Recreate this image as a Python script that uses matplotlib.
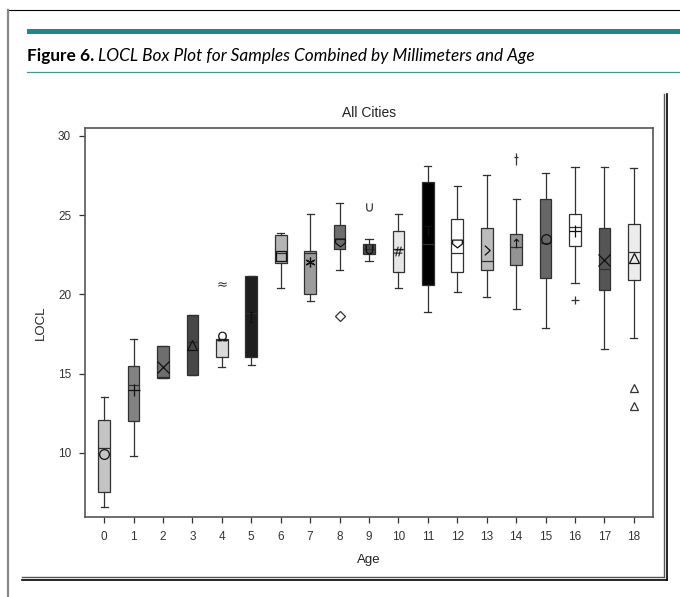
import matplotlib
matplotlib.use('Agg')
from matplotlib import pyplot as plt
from matplotlib.lines import Line2D
from matplotlib.patches import Rectangle
from matplotlib.markers import MarkerStyle
from matplotlib.path import Path

ages = list(range(19))
whislo = [6.56, 9.81, 14.72, 14.94, 15.40, 15.57, 20.42, 19.58, 21.52, 22.10,
          20.42, 18.90, 20.17, 19.85, 19.05, 17.89, 20.70, 16.56, 17.26]
q1 = [7.55, 12.03, 14.72, 14.94, 16.03, 16.03, 22.00, 20.00, 22.85, 22.57,
      21.43, 20.57, 21.43, 21.52, 21.84, 21.05, 23.06, 20.25, 20.89]
med = [10.30, 14.26, 14.80, 17.00, 17.12, 18.84, 22.64, 22.60, 23.48, 22.85,
       22.85, 23.20, 22.60, 22.10, 23.00, 23.27, 24.28, 21.58, 22.68]
q3 = [12.09, 15.46, 16.73, 18.69, 17.20, 21.16, 23.75, 22.74, 24.39, 23.16,
      24.00, 27.07, 24.75, 24.22, 23.84, 26.05, 25.10, 24.16, 24.47]
whishi = [13.50, 17.20, 16.73, 18.69, 17.20, 21.16, 23.90, 25.06, 25.74, 23.48,
          25.06, 28.12, 26.85, 27.56, 26.00, 27.64, 28.04, 28.04, 27.97]
means = [9.94, 13.95, 15.40, 16.83, 17.40, 18.60, 22.43, 22.05, 23.30, 22.85,
         22.74, 24.00, 23.23, 22.80, 23.27, 23.48, 23.97, 22.20, 22.32]
outliers = [[], [], [], [], [20.68], [], [], [], [18.63], [25.49],
            [], [], [], [], [28.54], [], [19.62], [], [14.09, 12.97]]
box_grays = ['#c4c4c4', '#828282', '#6e6e6e', '#474747', '#dadada', '#1e1e1e',
             '#b4b4b4', '#9c9c9c', '#6e6e6e', '#4a4a4a', '#e6e6e6', '#000000',
             '#ffffff', '#bcbcbc', '#949494', '#666666', '#ffffff', '#555555',
             '#ececec']


def line_marker(segs):
    verts, codes = [], []
    for seg in segs:
        for k, p in enumerate(seg):
            verts.append(p)
            codes.append(Path.MOVETO if k == 0 else Path.LINETO)
    return MarkerStyle(Path(verts, codes))


shield = MarkerStyle(Path([(-1, 0.7), (1, 0.7), (1, -0.1), (0, -0.9), (-1, -0.1), (-1, 0.7)],
                          [Path.MOVETO] + [Path.LINETO] * 4 + [Path.CLOSEPOLY]))
i_mark = line_marker([[(-0.45, 1), (0.45, 1)], [(0, 1), (0, -1)], [(-0.45, -1), (0.45, -1)]])
t_mark = line_marker([[(-0.8, 1), (0.8, 1)], [(0, 1), (0, -1)]])
gt_mark = line_marker([[(-0.55, 1), (0.55, 0), (-0.55, -1)]])
dagger = line_marker([[(0, 1), (0, -1)], [(-0.4, 0.45), (0.4, 0.45)]])

mean_marks = ['o', '+', 'x', '^', r'$\Omega$', i_mark, 's', (6, 2, 0), shield, r'$\cup$',
              r'$\#$', t_mark, shield, gt_mark, r'$\uparrow$', 'o', '+', 'x', '^']
flier_marks = list(mean_marks)
flier_marks[4] = r'$\approx$'
flier_marks[8] = 'D'
flier_marks[14] = dagger

fig = plt.figure(figsize=(6.8, 5.97), dpi=100)

# page frame around the figure
W, H = 680.0, 597.0
def fline(x0, y0, x1, y1, **kw):
    fig.add_artist(Line2D([x0 / W, x1 / W], [1 - y0 / H, 1 - y1 / H],
                          transform=fig.transFigure, **kw))

fline(7, 10, 680, 10, color='black', lw=0.8)
fline(7.5, 10, 7.5, 597, color='#888888', lw=1.6)
fig.add_artist(Rectangle((27 / W, 1 - 33.5 / H), 1, 5 / H, transform=fig.transFigure,
                         color='#1b8a8c', lw=0))
fline(27, 72, 680, 72, color='#3b9b9c', lw=0.9)
fline(663.5, 94, 663.5, 576.5, color='#555555', lw=1.0)
fline(667, 94, 667, 579.5, color='black', lw=1.2)
fline(22, 576.5, 663.5, 576.5, color='#555555', lw=1.0)
fline(22, 579.5, 667, 579.5, color='black', lw=1.2)

t1 = fig.text(27 / W, 1 - 61 / H, 'Figure 6.', fontsize=12.4, fontweight='bold',
              family='Lato', va='baseline')
fig.canvas.draw()
bb = t1.get_window_extent(fig.canvas.get_renderer())
fig.text(bb.x1 / W + 4 / W, 1 - 61 / H,
         'LOCL Box Plot for Samples Combined by Millimeters and Age',
         fontsize=12.4, style='italic', family='Lato', va='baseline')

ax = fig.add_axes([85 / W, 1 - 517 / H, (653 - 85) / W, (517 - 128) / H])

stats = []
for i in ages:
    stats.append(dict(whislo=whislo[i], q1=q1[i], med=med[i], q3=q3[i],
                      whishi=whishi[i], mean=means[i], fliers=outliers[i]))

edge = '#303030'
res = ax.bxp(stats, positions=ages, widths=0.4, capwidths=0.24, patch_artist=True,
             showmeans=True,
             boxprops=dict(edgecolor=edge, linewidth=0.9),
             whiskerprops=dict(color=edge, linewidth=0.9),
             capprops=dict(color=edge, linewidth=0.9),
             medianprops=dict(color=edge, linewidth=0.9),
             meanprops=dict(marker='o', markerfacecolor='none', markeredgecolor='#111111',
                            markersize=7, markeredgewidth=0.9),
             flierprops=dict(marker='o', markerfacecolor='none', markeredgecolor='#333333',
                             markersize=6, markeredgewidth=0.9))


def is_text(mk):
    return isinstance(mk, str) and mk.startswith('$')


for i, box in enumerate(res['boxes']):
    box.set_facecolor(box_grays[i])
for i, m in enumerate(res['means']):
    m.set_marker(mean_marks[i])
    if is_text(mean_marks[i]):
        m.set_markersize(7)
        m.set_markerfacecolor('#111111')
        m.set_markeredgewidth(0)
    if mean_marks[i] in ('+', 'x'):
        m.set_markersize(9)
for i, f in enumerate(res['fliers']):
    f.set_marker(flier_marks[i])
    if is_text(flier_marks[i]):
        f.set_markersize(6)
        f.set_markerfacecolor('#333333')
        f.set_markeredgewidth(0)
    if flier_marks[i] == 'D':
        f.set_markersize(5)
    if i == 14:
        f.set_markersize(8)

ax.set_xlim(-0.65, 18.65)
ax.set_ylim(5.95, 30.5)
ax.set_xticks(ages)
ax.set_xticklabels([str(a) for a in ages])
ax.set_yticks([10, 15, 20, 25, 30])
for s in ['top', 'right', 'left', 'bottom']:
    ax.spines[s].set_color('#555555')
    ax.spines[s].set_linewidth(1.2)
ax.tick_params(direction='out', length=4, width=0.9, color='#333333',
               labelsize=8.5, labelcolor='#333333', pad=6)
for lab in ax.get_xticklabels() + ax.get_yticklabels():
    lab.set_family('Liberation Sans')

ax.set_title('All Cities', fontsize=10, family='Liberation Sans', color='#222222', pad=8)
ax.set_xlabel('Age', fontsize=9.5, family='Liberation Sans', color='#222222', labelpad=8)
ax.set_ylabel('LOCL', fontsize=9.5, family='Liberation Sans', color='#222222', labelpad=8)

fig.savefig('out.png', dpi=100)
